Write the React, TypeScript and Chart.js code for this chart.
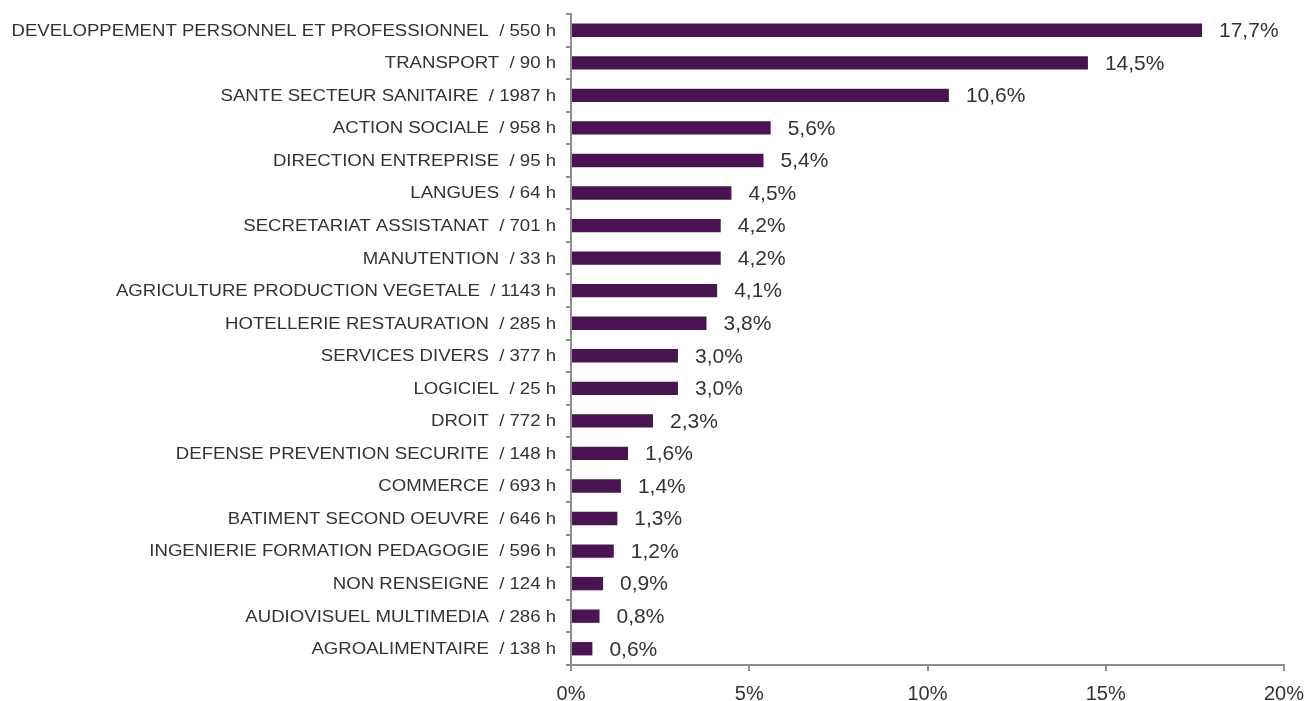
import React, { useEffect, useRef } from "react";
import { Chart, registerables } from "chart.js";

Chart.register(...registerables);

const categories: string[] = [
  "DEVELOPPEMENT PERSONNEL ET PROFESSIONNEL",
  "TRANSPORT",
  "SANTE SECTEUR SANITAIRE",
  "ACTION SOCIALE",
  "DIRECTION ENTREPRISE",
  "LANGUES",
  "SECRETARIAT ASSISTANAT",
  "MANUTENTION",
  "AGRICULTURE PRODUCTION VEGETALE",
  "HOTELLERIE RESTAURATION",
  "SERVICES DIVERS",
  "LOGICIEL",
  "DROIT",
  "DEFENSE PREVENTION SECURITE",
  "COMMERCE",
  "BATIMENT SECOND OEUVRE",
  "INGENIERIE FORMATION PEDAGOGIE",
  "NON RENSEIGNE",
  "AUDIOVISUEL MULTIMEDIA",
  "AGROALIMENTAIRE",
];

const hours: number[] = [550, 90, 1987, 958, 95, 64, 701, 33, 1143, 285, 377, 25, 772, 148, 693, 646, 596, 124, 286, 138];

const shares: number[] = [17.7, 14.5, 10.6, 5.6, 5.4, 4.5, 4.2, 4.2, 4.1, 3.8, 3.0, 3.0, 2.3, 1.6, 1.4, 1.3, 1.2, 0.9, 0.8, 0.6];

const xTicks: number[] = [0, 5, 10, 15, 20];

const FONT = "'Liberation Sans', Arial, sans-serif";

const valueLabels = {
  id: "valueLabels",
  afterDatasetsDraw(chart: any) {
    const ctx = chart.ctx;
    const meta = chart.getDatasetMeta(0);
    ctx.save();
    ctx.font = `21px ${FONT}`;
    ctx.fillStyle = "#333333";
    ctx.textAlign = "left";
    ctx.textBaseline = "middle";
    meta.data.forEach((bar: any, i: number) => {
      const txt = shares[i].toFixed(1).replace(".", ",") + "%";
      ctx.fillText(txt, bar.x + 17, bar.y + 1);
    });
    ctx.restore();
  },
};

// category labels, drawn slightly widened like the reference
const categoryLabels = {
  id: "categoryLabels",
  afterDraw(chart: any) {
    const ctx = chart.ctx;
    const y = chart.scales.y;
    const right = y.right - 15;
    ctx.save();
    ctx.font = `16px ${FONT}`;
    ctx.fillStyle = "#333333";
    ctx.textAlign = "right";
    ctx.textBaseline = "middle";
    (chart.data.labels as string[]).forEach((lab: string, i: number) => {
      const py = y.getPixelForValue(i);
      ctx.save();
      ctx.translate(right, py + 1);
      ctx.scale(1.162, 1);
      ctx.fillText(lab, 0, 0);
      ctx.restore();
    });
    ctx.restore();
  },
};

export default function App() {
  const ref = useRef<HTMLCanvasElement | null>(null);
  useEffect(() => {
    if (!ref.current) return;
    const labels = categories.map((c, i) => `${c}  / ${hours[i]} h`);
    const chart = new Chart(ref.current, {
      type: "bar",
      data: {
        labels,
        datasets: [
          {
            data: shares,
            backgroundColor: "#4A1452",
            borderWidth: 0,
            barPercentage: 0.41,
            categoryPercentage: 1,
          },
        ],
      },
      options: {
        indexAxis: "y",
        animation: false,
        responsive: false,
        maintainAspectRatio: false,
        layout: { padding: { top: 14, right: 25, left: 0, bottom: 0 } },
        plugins: { legend: { display: false }, tooltip: { enabled: false } },
        scales: {
          x: {
            min: 0,
            max: 20,
            afterFit: (s: any) => {
              s.height = 36;
              s.paddingLeft = 0;
              s.paddingRight = 0;
            },
            afterBuildTicks: (s: any) => {
              s.ticks = xTicks.map((v) => ({ value: v }));
            },
            border: { display: true, color: "#8c8c8c", width: 2 },
            grid: { drawOnChartArea: false, drawTicks: true, tickLength: 6, color: "#8c8c8c", lineWidth: 2 },
            ticks: {
              padding: 11,
              color: "#333333",
              font: { family: FONT, size: 20 },
              maxRotation: 0,
              callback: (v: any) => `${v}%`,
            },
          },
          y: {
            afterFit: (s: any) => {
              s.width = 571;
              s.paddingTop = 0;
              s.paddingBottom = 0;
            },
            border: { display: true, color: "#8c8c8c", width: 2 },
            grid: { drawOnChartArea: false, drawTicks: true, tickLength: 5, color: "#8c8c8c", lineWidth: 2, offset: true },
            ticks: {
              display: false,
              autoSkip: false,
            },
          },
        },
      },
      plugins: [valueLabels, categoryLabels],
    });
    return () => chart.destroy();
  }, []);
  return (
    <div style={{ position: "absolute", left: 0, top: 0, width: 1309, height: 701, background: "#fff" }}>
      <canvas ref={ref} width={1309} height={701} style={{ display: "block" }} />
    </div>
  );
}
